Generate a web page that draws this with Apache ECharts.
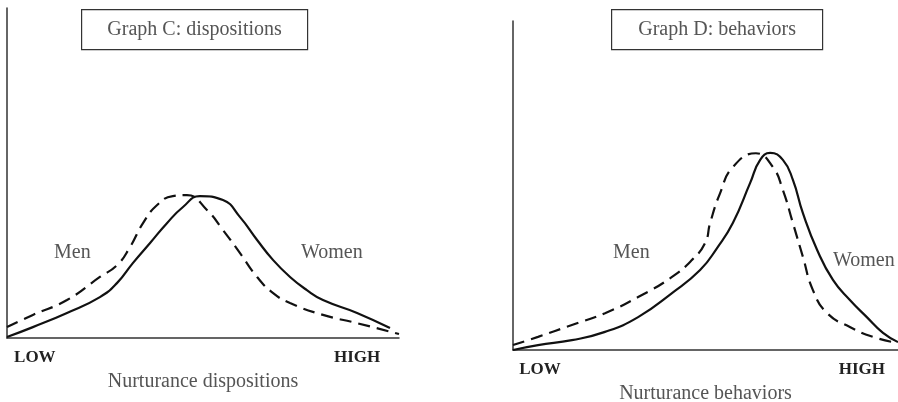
<!doctype html>
<html lang="en">
<head>
    <meta charset="UTF-8">
    <title>Graph C / Graph D - nurturance</title>
    <script src="https://cdn.jsdelivr.net/npm/echarts@6/dist/echarts.min.js"></script>
    <style>
        body { margin: 0; background: #fff; }
        #main { width: 898px; height: 402px; }
    </style>
</head>
<body>
<div id="main"></div>
<script type="text/javascript">

    // position on the nurturance scale (0 = LOW, 100 = HIGH), relative frequency
    var dispWomen = [[0, 0.3], [6.6, 3.3], [15.3, 7.6], [23.7, 12.4], [28.1, 16.7], [32.1, 22.7], [36.5, 28.8],
        [40.8, 34.8], [44.9, 39.7], [49.2, 43.0], [55.1, 41.8], [59.4, 36.7], [63.8, 29.7], [67.9, 23.6],
        [72.2, 18.5], [76.5, 14.5], [80.6, 11.5], [89.3, 7.6], [97.7, 3.0]];
    var dispMen = [[0, 3.3], [6.6, 7.0], [15.3, 11.5], [23.7, 18.5], [28.1, 22.1], [31.4, 27.6], [34.7, 34.8],
        [38.3, 40.3], [42.3, 43.0], [45.9, 43.3], [51.0, 38.8], [55.1, 32.7], [59.4, 25.8], [63.8, 18.5],
        [67.9, 13.6], [72.2, 10.6], [80.6, 7.0], [89.3, 4.5], [100, 1.2]];
    var behWomen = [[0, 0], [6.5, 1.5], [15.3, 3.0], [23.9, 5.5], [32.5, 10.0], [41.3, 17.3], [48.6, 24.3],
        [53.0, 31.0], [57.1, 38.6], [61.6, 50.8], [64.2, 57.8], [66.8, 59.9], [70.1, 57.8], [72.7, 51.7],
        [75.3, 41.6], [79.0, 30.4], [83.1, 21.3], [87.5, 15.2], [91.9, 10.0], [96.1, 5.2], [100, 2.4]];
    var behMen = [[0, 1.5], [6.5, 4.0], [15.3, 7.6], [23.9, 11.2], [32.5, 16.1], [41.3, 22.2], [46.5, 27.4],
        [49.9, 32.5], [51.2, 38.6], [53.8, 47.7], [57.1, 55.6], [63.1, 59.8], [67.5, 55.6],
        [70.1, 48.6], [72.7, 38.6], [75.3, 28.3], [77.9, 18.2], [81.6, 11.2], [87.5, 7.0], [93.5, 4.0], [100, 2.1]];

    var titles = ['Graph C: dispositions', 'Graph D: behaviors'];
    var axisNames = ['Nurturance dispositions', 'Nurturance behaviors'];
    var endLabels = ['LOW', 'HIGH'];
    var lowHighAt = [[7.1, 89.3], [7.0, 90.6]];

    var serif = '"Liberation Serif", "DejaVu Serif", serif';
    var chart = echarts.init(document.getElementById('main'));

    function xAxisFor(i) {
        return {
            type: 'value', gridIndex: i, min: 0, max: 100,
            name: axisNames[i], nameLocation: 'middle', nameGap: 34,
            nameTextStyle: {fontFamily: serif, fontSize: 20, color: '#555'},
            axisLine: {lineStyle: {color: '#333', width: 1.5}},
            axisTick: {show: false},
            splitLine: {show: false},
            axisLabel: {
                customValues: lowHighAt[i], margin: 11,
                fontFamily: serif, fontSize: 17, fontWeight: 'bold', color: '#222',
                formatter: function (v) { return v < 50 ? endLabels[0] : endLabels[1]; }
            }
        };
    }

    function yAxisFor(i) {
        return {
            type: 'value', gridIndex: i, min: 0, max: 100,
            axisLine: {show: true, lineStyle: {color: '#333', width: 1.5}},
            axisTick: {show: false}, axisLabel: {show: false}, splitLine: {show: false}
        };
    }

    function curve(i, data, dashed) {
        return {
            type: 'line', xAxisIndex: i, yAxisIndex: i, data: data,
            smooth: 0.5, symbol: 'none', silent: true,
            lineStyle: {color: '#111', width: 2.2, type: dashed ? [12, 7] : 'solid'}
        };
    }

    function titleBox(x, w, text) {
        return {
            type: 'group', left: x, top: 9,
            children: [
                {type: 'rect', shape: {x: 0, y: 0, width: w, height: 40},
                    style: {fill: '#fff', stroke: '#333', lineWidth: 1.2}},
                {type: 'text', x: w / 2, y: 20,
                    style: {text: text, fontFamily: serif, fontSize: 20, fill: '#555',
                        textAlign: 'center', textVerticalAlign: 'middle'}}
            ]
        };
    }

    function note(x, y, text) {
        return {type: 'text', left: x, top: y,
            style: {text: text, fontFamily: serif, fontSize: 20, fill: '#555'}};
    }

    option = {
        backgroundColor: '#fff',
        animation: false,
        grid: [
            {left: 7, top: 8, width: 392, height: 330, outerBoundsMode: 'none'},
            {left: 513, top: 21, width: 385, height: 329, outerBoundsMode: 'none'}
        ],
        xAxis: [xAxisFor(0), xAxisFor(1)],
        yAxis: [yAxisFor(0), yAxisFor(1)],
        series: [
            curve(0, dispWomen, false),
            curve(0, dispMen, true),
            curve(1, behWomen, false),
            curve(1, behMen, true)
        ],
        graphic: [
            titleBox(81, 226, titles[0]),
            titleBox(611, 211, titles[1]),
            note(54, 243, 'Men'),
            note(301, 243, 'Women'),
            note(613, 243, 'Men'),
            note(833, 251, 'Women')
        ]
    };

    chart.setOption(option);

</script>
</body>
</html>
